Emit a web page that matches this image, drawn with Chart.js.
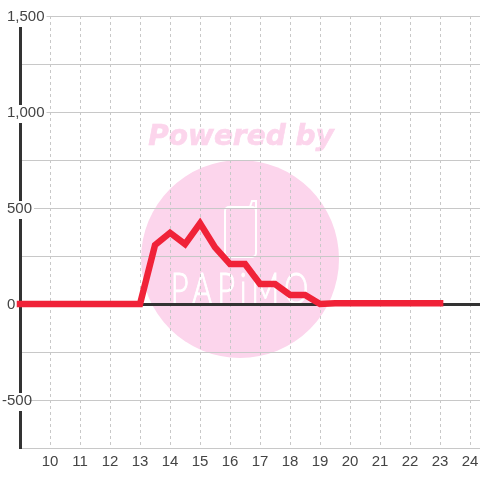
<!DOCTYPE html>
<html>
<head>
<meta charset="utf-8">
<style>
    html, body { margin: 0; padding: 0; background: #fff; }
    canvas { display: block; }
</style>
<script src="https://cdn.jsdelivr.net/npm/chart.js@4"></script>
</head>
<body>
<canvas id="lineChart" width="480" height="480"></canvas>
<script>
// Data
const hours = [9, 13, 13.5, 14, 14.5, 15, 15.5, 16, 16.5, 17, 17.5, 18, 18.5, 19, 19.5, 20, 21, 22, 23];
const power = [0, 0, 307, 371, 312, 420, 295, 208, 208, 104, 104, 47, 47, 0, 4, 4, 4, 4, 4];
const watermarkTop = "Powered by";
const watermarkBottom = "PAPiMO";

const gridColor = "#c8c8c8";
const axisColor = "#333333";
const labelColor = "#444444";
const fontFamily = "'Liberation Sans', Arial, sans-serif";

// Logo behind the grid
const watermark = {
    id: "watermark",
    beforeDraw(chart) {
        const ctx = chart.ctx;
        ctx.save();
        ctx.fillStyle = "#fcd5ec";
        ctx.strokeStyle = "#fcd5ec";
        ctx.beginPath();
        ctx.arc(240, 259, 99, 0, Math.PI * 2);
        ctx.fill();

        ctx.font = "italic bold 28px 'DejaVu Sans'";
        ctx.textAlign = "center";
        ctx.textBaseline = "alphabetic";
        ctx.lineWidth = 0.6;
        ctx.fillText(watermarkTop, 241, 145);
        ctx.strokeText(watermarkTop, 241, 145);

        // Phone
        ctx.strokeStyle = "#ffffff";
        ctx.lineWidth = 2;
        ctx.beginPath();
        ctx.roundRect(225, 207, 31, 50, 4);
        ctx.moveTo(250, 207);
        ctx.lineTo(252, 201);
        ctx.lineTo(256, 201);
        ctx.lineTo(256, 212);
        ctx.stroke();

        // Name
        ctx.fillStyle = "#ffffff";
        ctx.translate(240, 304);
        ctx.scale(0.7, 1);
        ctx.font = "300 44px Lato";
        ctx.letterSpacing = "7px";
        ctx.lineWidth = 1;
        ctx.fillText(watermarkBottom, 3, 0);
        ctx.strokeText(watermarkBottom, 3, 0);
        ctx.restore();

        // Labels sit a pixel lower, and the minus sign of -500 hangs out to the left
        chart.scales.y.getLabelItems().forEach(item => {
            if (item.moved) return;
            item.moved = true;
            const shift = item.label === "-500" ? -5 : 0;
            item.options.translation[0] += shift;
            item.options.translation[1] += 1;
            if (item.options.backdrop) {
                item.options.backdrop.left += shift;
                item.options.backdrop.top += 1;
            }
        });
    }
};

new Chart(document.getElementById("lineChart"), {
    type: "line",
    data: {
        datasets: [{
            data: hours.map((hour, i) => ({ x: hour, y: power[i] })),
            borderColor: "#f02238",
            borderWidth: 6.5,
            borderCapStyle: "square",
            pointRadius: 0,
            tension: 0,
            clip: false
        }]
    },
    options: {
        responsive: false,
        animation: false,
        layout: { padding: { left: 20, top: 16, right: 0, bottom: 0 } },
        plugins: {
            legend: { display: false },
            tooltip: { enabled: false }
        },
        scales: {
            x: {
                type: "linear",
                min: 9,
                max: 24.33,
                afterFit(scale) {
                    scale.height = 32;
                    scale.paddingRight = 0;
                    scale.paddingLeft = 0;
                },
                border: { display: false, dash: [3, 3] },
                grid: {
                    drawTicks: false,
                    color: c => c.tick.value > 9 ? gridColor : "transparent"
                },
                ticks: {
                    stepSize: 1,
                    includeBounds: false,
                    autoSkip: false,
                    maxRotation: 0,
                    padding: 5,
                    color: labelColor,
                    font: { family: fontFamily, size: 15 },
                    callback: v => v > 9 ? String(v) : ""
                }
            },
            y: {
                min: -750,
                max: 1500,
                afterFit(scale) { scale.width = 0; },
                border: { color: axisColor, width: 3 },
                grid: {
                    drawTicks: false,
                    color: c => c.tick.value === 0 ? axisColor : gridColor,
                    lineWidth: c => c.tick.value === 0 ? 3 : 1
                },
                ticks: {
                    stepSize: 250,
                    autoSkip: false,
                    mirror: true,
                    padding: -13,
                    crossAlign: "near",
                    color: labelColor,
                    font: { family: fontFamily, size: 15 },
                    showLabelBackdrop: c => c.tick.value % 500 === 0,
                    backdropColor: "#ffffff",
                    backdropPadding: { left: 1, right: 2, top: 0, bottom: 0 },
                    callback: v => v % 500 === 0 ? v.toLocaleString("en-US") : ""
                }
            }
        }
    },
    plugins: [watermark]
});
</script>
</body>
</html>
